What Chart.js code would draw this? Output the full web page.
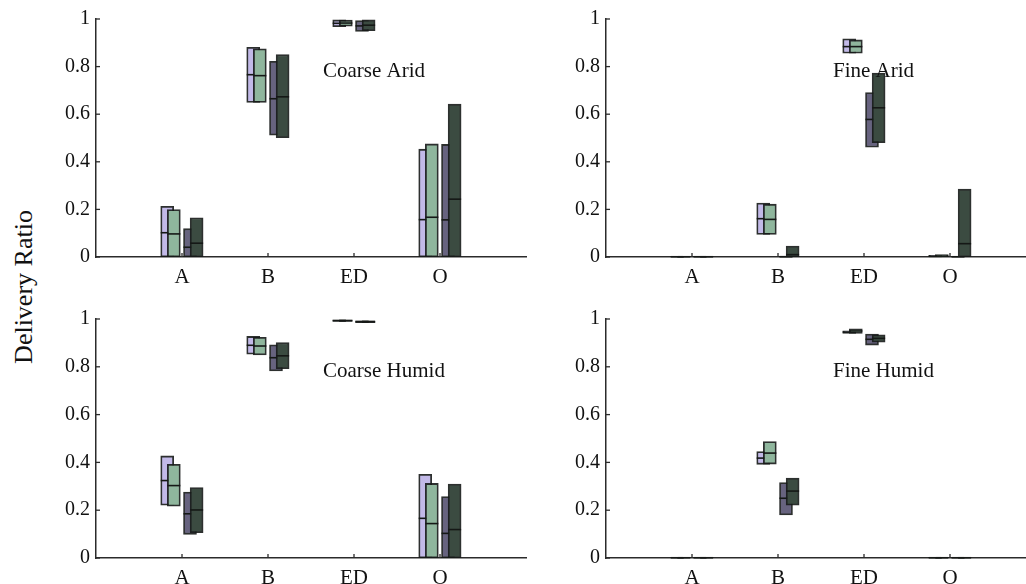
<!DOCTYPE html>
<html>
<head>
<meta charset="utf-8">
<script src="https://cdn.jsdelivr.net/npm/chart.js@4.4.1/dist/chart.umd.min.js"></script>
<style>
  html, body { margin: 0; padding: 0; background: #fff; }
  body { position: relative; width: 1026px; height: 584px; overflow: hidden; }
  canvas { position: absolute; }
  #ylabel {
    position: absolute; left: 24px; top: 287px;
    transform: translate(-50%, -50%) rotate(-90deg);
    font: 26px "Liberation Serif", serif; color: #111; white-space: nowrap;
  }
</style>
</head>
<body>
<div id="ylabel">Delivery Ratio</div>
<canvas id="tl" width="500" height="292" style="left:40px;top:0px"></canvas>
<canvas id="tr" width="490" height="292" style="left:550px;top:0px"></canvas>
<canvas id="bl" width="500" height="292" style="left:40px;top:292px"></canvas>
<canvas id="br" width="490" height="292" style="left:550px;top:292px"></canvas>
<script>
// Categories and tick labels
const categories = ['A', 'B', 'ED', 'O'];
const seriesLabels = ['Series 1', 'Series 2', 'Series 3', 'Series 4'];
const yTickValues = [0, 0.2, 0.4, 0.6, 0.8, 1];
const panelTitles = ['Coarse Arid', 'Fine Arid', 'Coarse Humid', 'Fine Humid'];

// Each table: one row per series, one column per category (A, B, ED, O)
const coarseAridLower = [
  [0, 0.649, 0.968, 0],
  [0, 0.649, 0.970, 0],
  [0, 0.512, 0.948, 0],
  [0, 0.501, 0.951, 0]
];
const coarseAridUpper = [
  [0.213, 0.881, 0.996, 0.453],
  [0.199, 0.875, 0.995, 0.475],
  [0.119, 0.822, 0.993, 0.473],
  [0.165, 0.850, 0.996, 0.642]
];
const coarseAridMedian = [
  [0.102, 0.766, 0.982, 0.157],
  [0.097, 0.762, 0.983, 0.167],
  [0.041, 0.665, 0.971, 0.156],
  [0.058, 0.673, 0.974, 0.243]
];

const fineAridLower = [
  [0, 0.095, 0.856, 0],
  [0, 0.095, 0.856, 0],
  [0, 0, 0.461, 0],
  [0, 0, 0.480, 0]
];
const fineAridUpper = [
  [0.003, 0.227, 0.917, 0.007],
  [0.003, 0.222, 0.912, 0.010],
  [0.003, 0.004, 0.691, 0.003],
  [0.003, 0.046, 0.773, 0.285]
];
const fineAridMedian = [
  [0.001, 0.161, 0.884, 0.003],
  [0.001, 0.158, 0.884, 0.004],
  [0.001, 0.001, 0.578, 0.001],
  [0.001, 0.010, 0.627, 0.056]
];

const coarseHumidLower = [
  [0.221, 0.853, 0.990, 0],
  [0.217, 0.850, 0.990, 0],
  [0.099, 0.783, 0.985, 0],
  [0.106, 0.792, 0.985, 0]
];
const coarseHumidUpper = [
  [0.427, 0.927, 0.997, 0.350],
  [0.392, 0.923, 0.997, 0.312],
  [0.276, 0.892, 0.992, 0.257],
  [0.295, 0.901, 0.992, 0.309]
];
const coarseHumidMedian = [
  [0.324, 0.890, 0.993, 0.166],
  [0.303, 0.887, 0.993, 0.144],
  [0.185, 0.838, 0.989, 0.103],
  [0.201, 0.846, 0.989, 0.119]
];

const fineHumidLower = [
  [0, 0.392, 0.940, 0],
  [0, 0.393, 0.940, 0],
  [0, 0.180, 0.891, 0],
  [0, 0.221, 0.903, 0]
];
const fineHumidUpper = [
  [0.002, 0.445, 0.951, 0.003],
  [0.002, 0.487, 0.959, 0.003],
  [0.002, 0.316, 0.937, 0.002],
  [0.002, 0.334, 0.934, 0.002]
];
const fineHumidMedian = [
  [0.001, 0.418, 0.945, 0.001],
  [0.001, 0.439, 0.950, 0.001],
  [0.001, 0.250, 0.915, 0.001],
  [0.001, 0.280, 0.919, 0.001]
];

// Styling: horizontal offset of each series inside its category slot
const seriesStyle = [
  { offset: -0.172, fill: '#c2b9e8', order: 4 },
  { offset: -0.095, fill: '#8fb69d', order: 3 },
  { offset:  0.093, fill: '#67637f', order: 2 },
  { offset:  0.170, fill: '#3b4b41', order: 1 }
];
const FONT = '"Liberation Serif", "Times New Roman", serif';
const INK = '#111';
const AXIS = '#2b2b2b';

function buildDatasets(lower, upper, median) {
  return seriesLabels.map((label, s) => ({
    label,
    data: categories.map((c, i) => ({ x: i + 1 + seriesStyle[s].offset, y: [lower[s][i], upper[s][i]] })),
    medians: median[s],
    backgroundColor: seriesStyle[s].fill,
    borderColor: 'rgba(22,26,24,0.9)',
    borderWidth: 1.8,
    borderSkipped: false,
    barThickness: 13,
    grouped: false,
    order: seriesStyle[s].order
  }));
}

// Median line across each box, drawn right after its own series
const medianLines = {
  id: 'medianLines',
  afterDatasetDraw(chart, args) {
    const ds = chart.data.datasets[args.index];
    const yScale = chart.scales.y;
    const ctx = chart.ctx;
    ctx.save();
    ctx.strokeStyle = '#151816';
    ctx.lineWidth = 1.6;
    args.meta.data.forEach((bar, i) => {
      const py = yScale.getPixelForValue(ds.medians[i]);
      const half = bar.width / 2;
      ctx.beginPath();
      ctx.moveTo(bar.x - half, py);
      ctx.lineTo(bar.x + half, py);
      ctx.stroke();
    });
    ctx.restore();
  }
};

// Short tick marks pointing into the plot area
const innerTicks = {
  id: 'innerTicks',
  beforeDatasetsDraw(chart) {
    const { x, y } = chart.scales;
    const area = chart.chartArea;
    const ctx = chart.ctx;
    ctx.save();
    ctx.strokeStyle = AXIS;
    ctx.lineWidth = 1.3;
    y.ticks.forEach(t => {
      const py = y.getPixelForValue(t.value);
      ctx.beginPath(); ctx.moveTo(area.left, py); ctx.lineTo(area.left + 4, py); ctx.stroke();
    });
    x.ticks.forEach(t => {
      const px = x.getPixelForValue(t.value);
      ctx.beginPath(); ctx.moveTo(px, area.bottom); ctx.lineTo(px, area.bottom - 4); ctx.stroke();
    });
    ctx.restore();
  }
};

// Panel caption placed in data coordinates
const panelCaption = {
  id: 'panelCaption',
  afterDatasetsDraw(chart, args, opts) {
    const { x, y } = chart.scales;
    const ctx = chart.ctx;
    ctx.save();
    ctx.font = '21px ' + FONT;
    ctx.fillStyle = INK;
    ctx.textAlign = 'left';
    ctx.textBaseline = 'alphabetic';
    ctx.fillText(opts.text, x.getPixelForValue(opts.x), y.getPixelForValue(opts.y));
    ctx.restore();
  }
};

function makePanel(id, title, lower, upper, median, padTop, padRight, xAxisHeight) {
  return new Chart(document.getElementById(id), {
    type: 'bar',
    data: { datasets: buildDatasets(lower, upper, median) },
    plugins: [medianLines, innerTicks, panelCaption],
    options: {
      responsive: false,
      animation: false,
      events: [],
      layout: { padding: { top: padTop, right: padRight, left: 0, bottom: 0 } },
      plugins: {
        legend: { display: false },
        tooltip: { enabled: false },
        panelCaption: { text: title, x: 2.64, y: 0.757 }
      },
      scales: {
        x: {
          type: 'linear',
          min: 0,
          max: 5,
          offset: false,
          grid: { display: false, drawTicks: false },
          border: { display: true, color: AXIS, width: 1.5 },
          afterBuildTicks: s => { s.ticks = categories.map((c, i) => ({ value: i + 1 })); },
          afterFit: s => { s.height = xAxisHeight; },
          ticks: {
            autoSkip: false,
            maxRotation: 0,
            padding: 8,
            color: INK,
            font: { family: FONT, size: 21 },
            callback: v => categories[Math.round(v) - 1] ?? ''
          }
        },
        y: {
          min: 0,
          max: 1,
          grid: { display: false, drawTicks: false },
          border: { display: true, color: AXIS, width: 1.5 },
          afterBuildTicks: s => { s.ticks = yTickValues.map(v => ({ value: v })); },
          afterFit: s => { s.width = 56; },
          ticks: {
            padding: 6,
            color: INK,
            font: { family: FONT, size: 20 },
            callback: v => String(v)
          }
        }
      }
    }
  });
}

makePanel('tl', panelTitles[0], coarseAridLower, coarseAridUpper, coarseAridMedian, 19, 14, 35);
makePanel('tr', panelTitles[1], fineAridLower, fineAridUpper, fineAridMedian, 19, 4, 35);
makePanel('bl', panelTitles[2], coarseHumidLower, coarseHumidUpper, coarseHumidMedian, 27, 14, 26);
makePanel('br', panelTitles[3], fineHumidLower, fineHumidUpper, fineHumidMedian, 27, 4, 26);
</script>
</body>
</html>
